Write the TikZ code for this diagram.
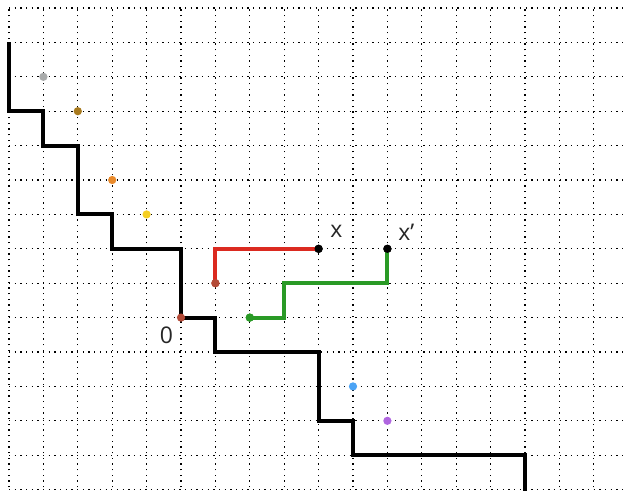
\documentclass[tikz,border=0pt]{standalone}
\usepackage{fontspec}
\setmainfont{Open Sans}
\usetikzlibrary{positioning}
\definecolor{dotgray}{HTML}{A9ABAB}
\definecolor{dotolive}{HTML}{A87A1E}
\definecolor{dotorange}{HTML}{E98A2B}
\definecolor{dotyellow}{HTML}{F5CF22}
\definecolor{dotbrown}{HTML}{B34A37}
\definecolor{dotblue}{HTML}{4BA3F5}
\definecolor{dotpurple}{HTML}{B066E0}
\definecolor{walkred}{HTML}{DB2A20}
\definecolor{walkgreen}{HTML}{2A9A26}

\begin{document}
\begin{tikzpicture}[x=1cm,y=1cm,
    pt/.style={circle,fill=#1,inner sep=0pt,minimum size=2.4mm},
    walk/.style={line width=1.15mm,line join=miter},
    lbl/.style={font=\fontsize{19}{21}\selectfont,text=black!85}]
    \useasboundingbox (-5.262,-5.04) rectangle (12.965,9.233);
    \draw[line width=.38mm,dash pattern=on .38mm off 1.27mm] (-5,-5.1) grid (12.965,9);
    \draw[walk] (-5,8) |- (-4,6) |- (-3,5) |- (-2,3) |- (0,2) |- (1,0)
      |- (4,-1) |- (5,-3) |- (10,-4) -- (10,-5.1);
    \coordinate (bend) at (3,1);
    \node[pt=dotgray] (g1) at (-4,7) {};
    \node[pt=dotolive] (g2) at (-3,6) {};
    \node[pt=dotorange] (g3) at (-2,4) {};
    \node[pt=dotyellow] (g4) at (-1,3) {};
    \node[pt=dotblue] (g5) at (5,-2) {};
    \node[pt=dotpurple] (g6) at (6,-3) {};
    \node[pt=dotbrown] (o) at (0,0) {};
    \node[pt=dotbrown] (a) at (1,1) {};
    \node[pt=walkgreen] (b) at (2,0) {};
    \node[pt=black] (x) at (4,2) {};
    \node[pt=black] (xp) at (6,2) {};
    \draw[walk,walkred] (a.center) |- (x.center);
    \draw[walk,walkgreen] (b.center) -| (bend) -| (xp.center);
    \node[pt=dotbrown] at (a) {};
    \node[pt=walkgreen] at (b) {};
    \node[pt=black] at (x) {};
    \node[pt=black] at (xp) {};
    \node[lbl,anchor=center] (ol) at (-0.42,-0.5) {0};
    \node[lbl,anchor=center] (xl) at (4.52,2.5) {x};
    \node[lbl,anchor=center] (xpl) at (6.55,2.47) {x’};
\end{tikzpicture}
\end{document}
